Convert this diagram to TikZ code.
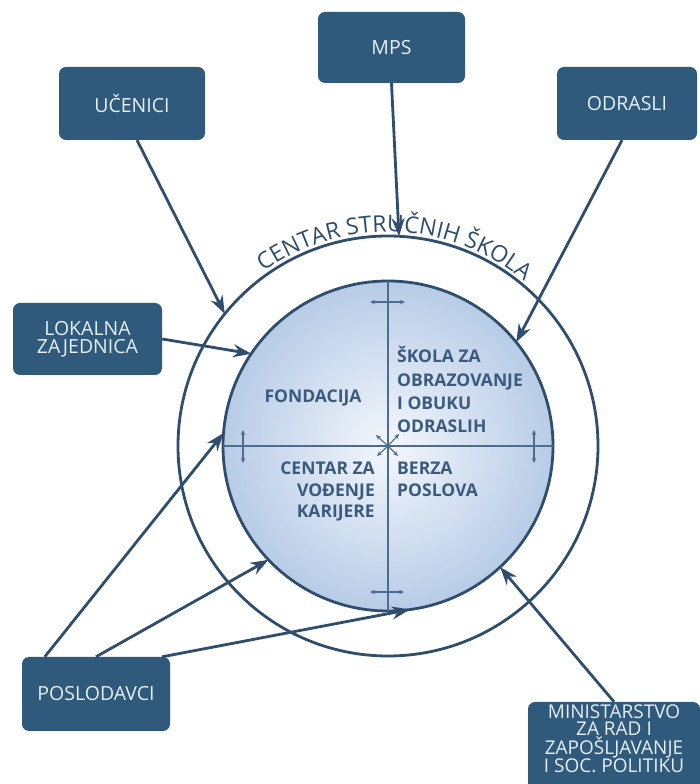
\documentclass[tikz,border=0pt]{standalone}
\usepackage{fontspec}
\setmainfont{Open Sans}
\usetikzlibrary{arrows.meta,decorations.text}
\definecolor{boxblue}{HTML}{2F5A7B}
\definecolor{linec}{HTML}{2F4D6D}
\definecolor{txtblue}{HTML}{3A5A7E}
\definecolor{boxtxt}{HTML}{E6EEF4}
\definecolor{thinc}{HTML}{4D6D90}
\definecolor{discin}{RGB}{243,247,252}
\definecolor{discout}{RGB}{184,204,231}
\tikzset{
  actor/.style={draw=none, fill=boxblue, rounded corners=7pt, text=boxtxt,
    font=\fontsize{19.5}{18}\selectfont, align=center, inner sep=0pt},
  conn/.style={draw=linec, line width=2.8pt, -{Stealth[length=18pt,width=13pt]}},
  ring/.style={draw=linec, line width=2.8pt},
  inlbl/.style={text=txtblue, font=\bfseries\fontsize{17.5}{18}\selectfont, inner sep=0pt},
  thin/.style={draw=thinc, line width=1.1pt},
  small/.style={draw=thinc, line width=1.2pt, {Stealth[length=5pt,width=4.5pt]}-{Stealth[length=5pt,width=4.5pt]}},
  tiny/.style={draw=thinc, line width=1.1pt, -{Stealth[length=5pt,width=4.5pt]}}
}
\begin{document}
\begin{tikzpicture}[x=1pt,y=1pt]
\useasboundingbox (0,0) rectangle (700,784);
\coordinate (c) at (388,338);
% outer ring
\draw[ring] (c) circle[radius=210];
% inner disc
\node[circle, minimum size=330pt, inner sep=0pt, draw=none] (disc) at (c) {};
\shade[inner color=discin, outer color=discout] (c) circle[radius=164];
\draw[ring] (c) circle[radius=165];
% cross
\draw[thin] (disc.west) -- (disc.east);
\draw[thin] (disc.north) -- (disc.south);
% small double arrows
\coordinate (ta) at (388,482);
\coordinate (ba) at (388,192);
\coordinate (la) at (243,338);
\coordinate (ra) at (534,338);
\draw[small] ([xshift=-18pt]ta) -- ([xshift=17pt]ta);
\draw[small] ([xshift=-18pt]ba) -- ([xshift=16pt]ba);
\draw[small] ([yshift=16pt]la) -- ([yshift=-17pt]la);
\draw[small] ([yshift=16pt]ra) -- ([yshift=-17pt]ra);
\draw[tiny] (c) -- ++(-12,11);
\draw[tiny] (c) -- ++(11,12);
\draw[tiny] (c) -- ++(-11,-10);
\draw[tiny] (c) -- ++(10,-10);
% inner labels
\node[inlbl, anchor=base] (fond) at (313,381) {FONDACIJA};
\node[inlbl, anchor=base west] (s1) at (397,421) {ŠKOLA ZA};
\node[inlbl, anchor=base west] (s2) at (397,397) {OBRAZOVANJE};
\node[inlbl, anchor=base west] (s3) at (397,374) {I OBUKU};
\node[inlbl, anchor=base west] (s4) at (397,351) {ODRASLIH};
\node[inlbl, anchor=base east] (k1) at (375,309) {CENTAR ZA};
\node[inlbl, anchor=base east] (k2) at (375,287) {VOĐENJE};
\node[inlbl, anchor=base east] (k3) at (375,266) {KARIJERE};
\node[inlbl, anchor=base west] (b1) at (397,309) {BERZA};
\node[inlbl, anchor=base west] (b2) at (397,287) {POSLOVA};
% curved title
\path[decorate, decoration={text along path, text align=center,
  text={|\color{linec}\fontsize{23}{23}\selectfont|CENTAR STRUČNIH ŠKOLA}}]
  ([shift={(150:214)}]c) arc[start angle=150, end angle=26, radius=214];
% actor boxes
\node[actor, minimum width=147pt, minimum height=71pt] (mps) at (391.5,736.5) {MPS};
\node[actor, minimum width=146pt, minimum height=73pt] (uc) at (132,680.5) {UČENICI};
\node[actor, minimum width=140pt, minimum height=73pt] (odr) at (627,680.5) {ODRASLI};
\node[actor, minimum width=149pt, minimum height=72pt] (lok) at (87.5,445) {LOKALNA\\ZAJEDNICA};
\node[actor, minimum width=148pt, minimum height=74pt] (pos) at (96,90) {POSLODAVCI};
\node[actor, minimum width=172pt, minimum height=92pt] (min) at (614,36) {};
\node[text=boxtxt, align=center, inner sep=0pt, font=\fontsize{19}{17}\selectfont] (mint) at (614,45)
  {MINISTARSTVO\\ZA RAD I\\ZAPOŠLJAVANJE\\I SOC. POLITIKU};
% connectors
\draw[conn] (mps.south) -- ([shift={(87:210)}]c);
\draw[conn] ([xshift=5pt]uc.south) -- ([shift={(141:210)}]c);
\draw[conn] ([xshift=-5pt]odr.south) -- ([shift={(39:165)}]c);
\draw[conn] (lok.east) -- ([shift={(146:165)}]c);
\draw[conn] ([xshift=23pt]pos.north west) -- ([shift={(175.5:165)}]c);
\draw[conn] (pos.north) -- ([shift={(223.6:165)}]c);
\draw[conn] ([xshift=-8pt]pos.north east) -- ([shift={(277.6:165)}]c);
\draw[conn] (min.north) -- ([shift={(312.8:165)}]c);
\end{tikzpicture}
\end{document}
